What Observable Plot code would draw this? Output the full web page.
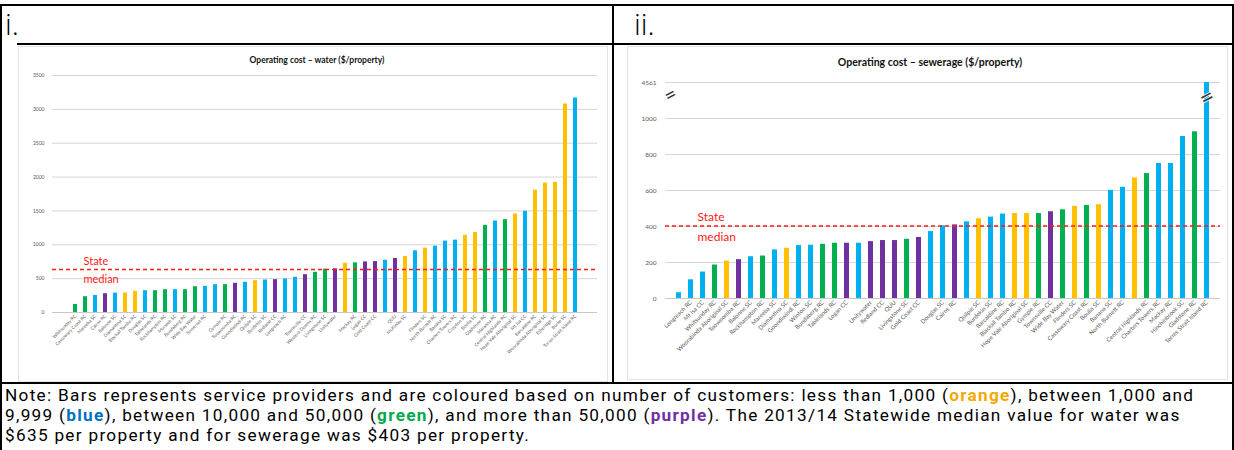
<!DOCTYPE html>
<html><head><meta charset="utf-8">
<script src="https://cdn.jsdelivr.net/npm/d3@7"></script>
<script src="https://cdn.jsdelivr.net/npm/@observablehq/plot@0.6"></script>
<style>
html,body{margin:0;padding:0;background:#fff;}
body{width:1234px;height:450px;overflow:hidden;position:relative;font-family:Lato,"Open Sans",sans-serif;color:#000;}
.ln{position:absolute;background:#000;}
#cap{position:absolute;left:3px;top:-21px;font-size:17px;line-height:22px;white-space:nowrap;font-family:"Open Sans",sans-serif;}
.lab{position:absolute;font-size:30px;font-weight:300;line-height:30px;font-family:"Open Sans",sans-serif;}
.chart{position:absolute;box-sizing:border-box;border:1px solid #e4e4e4;background:#fff;}
.chart svg{display:block;}
#note{position:absolute;left:5px;top:385px;font-size:17.2px;letter-spacing:1.3px;line-height:20px;white-space:nowrap;font-family:Roboto,sans-serif;}
#note b.o{color:#F5A800}#note b.b{color:#0070C0}#note b.g{color:#00A94F}#note b.p{color:#7030A0}
</style></head><body>
<div id="cap">Figure 3: Operating cost – water and sewerage ($/property)</div>
<div class="ln" style="left:0;top:4px;width:1234px;height:2px"></div>
<div class="ln" style="left:0;top:4px;width:2px;height:446px"></div>
<div class="ln" style="left:1232px;top:4px;width:2px;height:446px"></div>
<div class="ln" style="left:612px;top:4px;width:2px;height:380px"></div>
<div class="ln" style="left:17px;top:43px;width:1217px;height:2px"></div>
<div class="ln" style="left:0;top:382px;width:1234px;height:2px"></div>
<div class="lab" style="left:5px;top:9px">i.</div>
<div class="lab" style="left:634px;top:9px">ii.</div>
<div class="chart" id="c1" style="left:18px;top:46px;width:590px;height:336px"></div>
<div class="chart" id="c2" style="left:627px;top:46px;width:601px;height:334px"></div>
<div id="note">Note: Bars represents service providers and are coloured based on number of customers: less than 1,000 (<b class="o">orange</b>), between 1,000 and<br>9,999 (<b class="b">blue</b>), between 10,000 and 50,000 (<b class="g">green</b>), and more than 50,000 (<b class="p">purple</b>). The 2013/14 Statewide median value for water was<br>$635 per property and for sewerage was $403 per property.</div>
<script>
// ---- customer size classes ----
const classes = ["o", "b", "g", "p"]; // <1,000 | 1,000–9,999 | 10,000–50,000 | >50,000
const classColors = ["#FFC000", "#00B0F0", "#00B050", "#7030A0"];

// ---- i. Operating cost – water ($/property) ----
const waterNames = ["Whitsunday RC","Cassowary Coast RC","Mareeba SC","Cairns RC","Balonne SC","Diamantina SC","Blackall Tambo RC","Douglas SC","Tablelands RC","Rockhampton RC","Murweh SC","Bundaberg RC","Wide Bay Water","Somerset RC","","Gympie RC","Toowoomba RC","Goondiwindi RC","Quilpie SC","Burdekin SC","Redland CC","Longreach RC","","Townsville CC","Western Downs RC","Livingstone SC","Unitywater","","Mackay RC","Logan CC","Gold Coast CC","","QUU","McKinlay SC","","Flinders SC","North Burnett RC","Banana SC","Charters Towers RC","Croydon SC","Boulia SC","Gladstone RC","Maranoa RC","Central Highlands RC","Hope Vale Aboriginal SC","Mt Isa CC","Barcaldine RC","Woorabinda Aboriginal SC","Etheridge SC","Burke SC","Torres Strait Island RC"];
const waterValues = [119,233,252,277,287,287,312,322,322,337,337,337,381,386,411,411,431,446,470,480,485,495,520,559,594,640,645,728,733,747,752,772,797,827,911,950,980,1054,1069,1139,1183,1287,1351,1371,1455,1495,1807,1911,1921,3079,3168];
const waterClass = ["g","g","b","p","b","o","o","b","g","g","b","g","g","b","b","g","p","b","o","b","p","b","b","p","g","g","p","o","g","p","p","b","p","o","b","o","b","b","b","o","o","g","b","g","o","b","o","o","o","o","b"];
const waterTicks = [0,500,1000,1500,2000,2500,3000,3500];
const waterMedian = 635;

// ---- ii. Operating cost – sewerage ($/property) ----
const sewerNames = ["","Longreach RC","Mt Isa CC","Whitsunday RC","Woorabinda Aboriginal SC","Toowoomba RC","Balonne SC","Rockhampton RC","Mareeba SC","Diamantina SC","Goondiwindi RC","Winton SC","Bundaberg RC","Tablelands RC","Logan CC","","Unitywater","Redland CC","QUU","Livingstone SC","Gold Coast CC","","Douglas SC","Cairns RC","","Quilpie SC","Burdekin SC","Barcaldine RC","Blackall Tambo RC","Hope Vale Aboriginal SC","Gympie RC","Townsville CC","Wide Bay Water","Flinders SC","Cassowary Coast RC","Boulia SC","Banana SC","North Burnett RC","","Central Highlands RC","Charters Towers RC","Mackay RC","Hinchinbrook SC","Gladstone RC","Torres Strait Island RC"];
const sewerValues = [32,104,147,186,208,216,232,236,270,279,294,296,301,307,307,307,316,322,322,329,339,372,404,409,426,443,452,469,472,472,472,482,493,512,517,521,601,618,670,694,750,750,900,926,4561];
const sewerClass = ["b","b","b","g","o","p","b","g","b","o","b","b","g","g","p","b","p","p","p","g","p","b","b","p","b","o","b","b","o","o","g","p","g","o","g","o","b","b","o","g","b","b","b","g","b"];
const sewerTicks = [0,200,400,600,800,1000,1200];
const sewerTickLabels = ["0","200","400","600","800","1000","4561"];
const sewerMedian = 403;
const sewerAxisTop = 1200;   // broken axis: the top gridline stands for 4561
const sewerBreakAt = 1115;   // where the "//" break symbols sit

function makeChart(o) {
  const data = o.values.map((v, i) => ({i, v, c: o.cls[i]}));
  const n = data.length;
  const marks = [
    Plot.ruleY(o.ticks, {stroke: "#d6d6d6", strokeWidth: 1}),
    Plot.ruleY([0], {stroke: "#c8c8c8", strokeWidth: 1}),
    Plot.barY(data, {x: "i", y: d => Math.min(d.v, o.yMax), fill: "c"}),
    Plot.ruleY([o.median], {stroke: "#ff1a1a", strokeWidth: 1.6, strokeDasharray: "4,3"}),
    Plot.text([o.median], {y: d => d, text: () => "State", frameAnchor: "left", textAnchor: "start", dx: o.medDx, dy: -o.medFont * 0.72, fill: "#ff1a1a", fontSize: o.medFont}),
    Plot.text([o.median], {y: d => d, text: () => "median", frameAnchor: "left", textAnchor: "start", dx: o.medDx, dy: o.medFont * 0.9, fill: "#ff1a1a", fontSize: o.medFont}),
    Plot.text([o.title], {text: d => d, frameAnchor: "top", dx: o.titleDx, dy: o.titleDy, fontWeight: "bold", fontSize: o.titleSize, fill: "#111"})
  ];
  if (o.breakAt != null) {
    marks.push(Plot.text([o.breakAt], {y: d => d, text: () => "=", frameAnchor: "left", rotate: -28, fontSize: 20, fill: "#333", stroke: "#fff", strokeWidth: 1}));
    marks.push(Plot.text([data[n - 1]], {x: "i", y: () => o.breakAt, text: () => "=", rotate: -28, fontSize: 24, fill: "#333", stroke: "#fff", strokeWidth: 1.5}));
  }
  const fmtY = d => o.tickLabels ? o.tickLabels[o.ticks.indexOf(d)] : String(d);
  const opts = {
    width: o.width, height: o.height,
    marginLeft: o.mL, marginRight: o.mR, marginTop: o.mT, marginBottom: o.mB,
    style: {fontFamily: "Lato, 'Open Sans', sans-serif", color: "#595959", background: "#fff", fontSize: o.xFont + "px", overflow: "visible"},
    x: {type: "band", domain: d3.range(n), padding: o.pad, label: null},
    y: {domain: [0, o.yMax], label: null},
    color: {domain: classes, range: classColors}
  };
  if (Plot.axisX) {
    marks.push(Plot.axisX({tickRotate: -45, tickSize: 0, tickPadding: 3, fontSize: o.xFont, tickFormat: i => o.names[i], label: null}));
    marks.push(Plot.axisY({ticks: o.ticks, tickSize: 0, tickPadding: o.yPad, fontSize: o.yFont, tickFormat: fmtY, label: null}));
  } else {
    Object.assign(opts.x, {tickRotate: -45, tickSize: 0, tickPadding: 3, tickFormat: i => o.names[i]});
    Object.assign(opts.y, {ticks: o.ticks, tickSize: 0, tickPadding: o.yPad, tickFormat: fmtY});
  }
  opts.marks = marks;
  return Plot.plot(opts);
}

document.getElementById("c1").appendChild(makeChart({
  names: waterNames, values: waterValues, cls: waterClass, ticks: waterTicks, yMax: 3500,
  median: waterMedian, width: 588, height: 334, mL: 33, mR: 10, mT: 28, mB: 69, pad: 0.6,
  xFont: 4.6, yFont: 5, yPad: 8, medFont: 11, medDx: 31,
  title: "Operating cost – water ($/property)", titleSize: 8.5, titleDx: -8, titleDy: -19
}));
document.getElementById("c2").appendChild(makeChart({
  names: sewerNames, values: sewerValues, cls: sewerClass, ticks: sewerTicks, tickLabels: sewerTickLabels,
  yMax: sewerAxisTop, breakAt: sewerBreakAt,
  median: sewerMedian, width: 599, height: 332, mL: 37, mR: 7, mT: 35, mB: 81, pad: 0.62,
  xFont: 6, yFont: 6.5, yPad: 9, medFont: 12, medDx: 32,
  title: "Operating cost – sewerage ($/property)", titleSize: 10.5, titleDx: -13, titleDy: -24
}));
</script>
</body></html>
